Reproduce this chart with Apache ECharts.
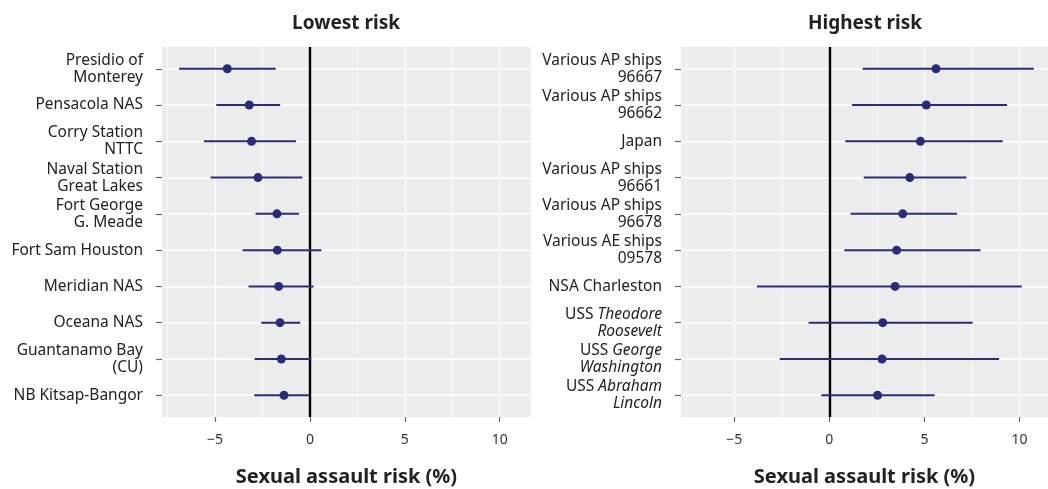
<!DOCTYPE html>
<html><head><meta charset="utf-8">
<script src="https://cdn.jsdelivr.net/npm/echarts@6/dist/echarts.min.js"></script>
<style>html,body{margin:0;padding:0;background:#fff;overflow:hidden}#c{width:1048px;height:489px}</style>
</head><body><div id="c"></div>
<script>
// ---- data ----
const lowTitle = 'Lowest risk';
const highTitle = 'Highest risk';
const xAxisTitle = 'Sexual assault risk (%)';

const lowCategories = ['Presidio of\nMonterey', 'Pensacola NAS', 'Corry Station\nNTTC', 'Naval Station\nGreat Lakes',
  'Fort George\nG. Meade', 'Fort Sam Houston', 'Meridian NAS', 'Oceana NAS', 'Guantanamo Bay\n(CU)', 'NB Kitsap-Bangor'];
const lowEstimate = [-4.36, -3.2, -3.08, -2.74, -1.74, -1.72, -1.65, -1.58, -1.51, -1.37];
const lowLower    = [-6.9, -4.94, -5.59, -5.24, -2.87, -3.55, -3.24, -2.57, -2.92, -2.94];
const lowUpper    = [-1.81, -1.57, -0.74, -0.4, -0.58, 0.6, 0.19, -0.51, 0.07, -0.04];

const highCategories = ['Various AP ships\n96667', 'Various AP ships\n96662', 'Japan', 'Various AP ships\n96661',
  'Various AP ships\n96678', 'Various AE ships\n09578', 'NSA Charleston', 'USS {i|Theodore}\n{i|Roosevelt}',
  'USS {i|George}\n{i|Washington}', 'USS {i|Abraham}\n{i|Lincoln}'];
const highEstimate = [5.61, 5.1, 4.79, 4.23, 3.86, 3.54, 3.46, 2.81, 2.77, 2.54];
const highLower    = [1.75, 1.19, 0.84, 1.81, 1.12, 0.79, -3.81, -1.09, -2.61, -0.42];
const highUpper    = [10.75, 9.35, 9.12, 7.21, 6.72, 7.95, 10.12, 7.54, 8.93, 5.54];

const rowPositions = [1, 2, 3, 4, 5, 6, 7, 8, 9, 10];
const xTicks = [-5, 0, 5, 10];
const xMinorTicks = [-7.5, -2.5, 2.5, 7.5];

// ---- styling ----
const NAVY = '#2b2c78';
const BG = '#ebecec';
const FONT = 'Noto Sans';

function fmtX(v) { return v < 0 ? '\u2212' + Math.abs(v) : String(v); }

function xAxisFor(idx, max) {
  return {
    type: 'value', gridIndex: idx, min: -7.8, max: max,
    name: xAxisTitle, nameLocation: 'middle', nameGap: 50,
    nameTextStyle: { fontFamily: FONT, fontWeight: 'bold', fontSize: 20, color: '#222' },
    axisLine: { show: false, onZero: false },
    axisTick: { show: true, customValues: xTicks, length: 5, lineStyle: { color: '#666', width: 1.2 } },
    axisLabel: { customValues: xTicks, formatter: fmtX, fontFamily: FONT, fontSize: 14, color: '#333', margin: 16 },
    splitLine: { show: false }
  };
}
function yAxisFor(idx, cats) {
  return {
    type: 'value', gridIndex: idx, min: 0.4, max: 10.6, inverse: true,
    axisLine: { show: false, onZero: false },
    axisTick: { show: true, customValues: rowPositions, length: 6, lineStyle: { color: '#666', width: 1.2 } },
    axisLabel: {
      customValues: rowPositions,
      formatter: v => cats[Math.round(v) - 1],
      fontFamily: FONT, fontSize: 15.5, color: '#222', lineHeight: 17, margin: 19, align: 'right',
      rich: { i: { fontStyle: 'italic', fontFamily: FONT, fontSize: 15.5, color: '#222', lineHeight: 17 } }
    },
    splitLine: { show: false }
  };
}
function gridLines(idx) {
  const data = [];
  rowPositions.forEach(r => data.push({ yAxis: r, lineStyle: { color: '#fff', width: 1.6, type: 'solid' } }));
  xTicks.forEach(t => data.push({ xAxis: t, lineStyle: { color: '#fff', width: 1.2, type: 'solid' } }));
  xMinorTicks.forEach(t => data.push({ xAxis: t, lineStyle: { color: '#fff', width: 0.7, type: 'solid' } }));
  return {
    type: 'scatter', xAxisIndex: idx, yAxisIndex: idx, data: [], silent: true, z: 1,
    markLine: { z: 1, silent: true, symbol: 'none', label: { show: false }, animation: false, data: data }
  };
}
function zeroLine(idx) {
  return {
    type: 'scatter', xAxisIndex: idx, yAxisIndex: idx, data: [], silent: true, z: 2,
    markLine: { z: 2, silent: true, symbol: 'none', label: { show: false }, animation: false,
      data: [{ xAxis: 0, lineStyle: { color: '#000', width: 2.4, type: 'solid' } }] }
  };
}
function bars(idx, lo, hi) {
  return {
    type: 'custom', xAxisIndex: idx, yAxisIndex: idx, z: 3, silent: true,
    data: rowPositions.map((r, i) => [lo[i], hi[i], r]),
    encode: { x: [0, 1], y: 2 },
    renderItem: (params, api) => {
      const s = api.coord([api.value(0), api.value(2)]);
      const e = api.coord([api.value(1), api.value(2)]);
      return { type: 'line', shape: { x1: s[0], y1: s[1], x2: e[0], y2: e[1] }, style: { stroke: NAVY, lineWidth: 2 } };
    }
  };
}
function points(idx, est) {
  return {
    type: 'scatter', xAxisIndex: idx, yAxisIndex: idx, z: 4, silent: true,
    symbol: 'circle', symbolSize: 9, itemStyle: { color: NAVY, opacity: 1 },
    data: rowPositions.map((r, i) => [est[i], r])
  };
}

const chart = echarts.init(document.getElementById('c'), null, { renderer: 'canvas' });
chart.setOption({
  animation: false,
  backgroundColor: '#fff',
  title: [
    { text: lowTitle, left: 341, top: 9, textAlign: 'center', textStyle: { fontFamily: FONT, fontWeight: 'bold', fontSize: 19, color: '#222' } },
    { text: highTitle, left: 860, top: 9, textAlign: 'center', textStyle: { fontFamily: FONT, fontWeight: 'bold', fontSize: 19, color: '#222' } }
  ],
  grid: [
    { left: 162, right: 517, top: 47, bottom: 72, show: true, backgroundColor: BG, borderWidth: 0, containLabel: false, outerBoundsMode: 'none' },
    { left: 681, right: 0, top: 47, bottom: 72, show: true, backgroundColor: BG, borderWidth: 0, containLabel: false, outerBoundsMode: 'none' }
  ],
  xAxis: [xAxisFor(0, 11.65), xAxisFor(1, 11.5)],
  yAxis: [yAxisFor(0, lowCategories), yAxisFor(1, highCategories)],
  series: [
    gridLines(0), zeroLine(0), bars(0, lowLower, lowUpper), points(0, lowEstimate),
    gridLines(1), zeroLine(1), bars(1, highLower, highUpper), points(1, highEstimate)
  ]
});
</script>
</body></html>
